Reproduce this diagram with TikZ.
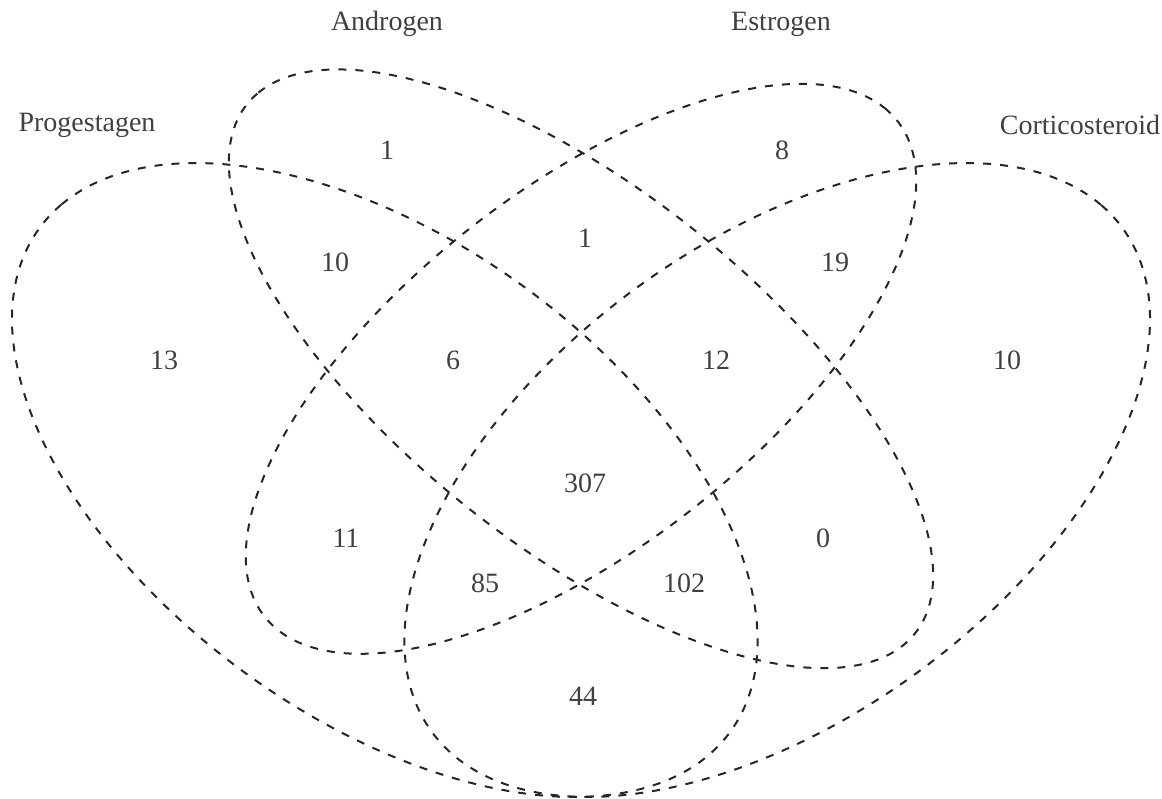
\documentclass[tikz,border=0pt]{standalone}
\usepackage{fontspec}
\setmainfont{Liberation Serif}
\newcommand{\vennell}[6]{%
  \draw[vennline] plot[domain=0:360,samples=361,variable=\t]
    ({#1+1308*(#3*(#5)*cos(\t)-#4*(#6)*sin(\t))},
     {#2-1112*(#3*(#6)*cos(\t)+#4*(#5)*sin(\t))}) -- cycle;}
\tikzset{
  vennline/.style={draw=black!85,line width=1pt,dash pattern=on 4pt off 4.5pt},
  setlabel/.style={text=black!75,font=\fontsize{14pt}{16pt}\selectfont,inner sep=0pt},
  count/.style={text=black!75,font=\fontsize{14pt}{16pt}\selectfont,inner sep=0pt}
}
\begin{document}
\begin{tikzpicture}[x=0.5pt,y=-0.5pt]
\useasboundingbox (0,0) rectangle (1162,798);
% ellipses: Progestagen, Androgen, Estrogen, Corticosteroid
\vennell{384.8}{480}{0.35}{0.20}{-0.70711}{0.70711}
\vennell{581}{368.8}{0.35}{0.15}{-0.70711}{0.70711}
\vennell{581}{368.8}{0.33}{0.15}{0.70711}{0.70711}
\vennell{777.2}{480}{0.35}{0.20}{0.70711}{0.70711}
% set labels
\node[setlabel] (lp) at (87,125) {Progestagen};
\node[setlabel] (la) at (387,24) {Androgen};
\node[setlabel] (le) at (781,24) {Estrogen};
\node[setlabel] (lc) at (1080,125) {Corticosteroid};
% counts
\node[count] (n1) at (387,150) {1};
\node[count] (n2) at (782,150) {8};
\node[count] (n3) at (335,262) {10};
\node[count] (n4) at (585,238) {1};
\node[count] (n5) at (835,262) {19};
\node[count] (n6) at (164,360) {13};
\node[count] (n7) at (453,360) {6};
\node[count] (n8) at (716,360) {12};
\node[count] (n9) at (1007,360) {10};
\node[count] (n10) at (585,483) {307};
\node[count] (n11) at (346,538) {11};
\node[count] (n12) at (823,538) {0};
\node[count] (n13) at (485,583) {85};
\node[count] (n14) at (684,583) {102};
\node[count] (n15) at (583,696) {44};
\end{tikzpicture}
\end{document}
